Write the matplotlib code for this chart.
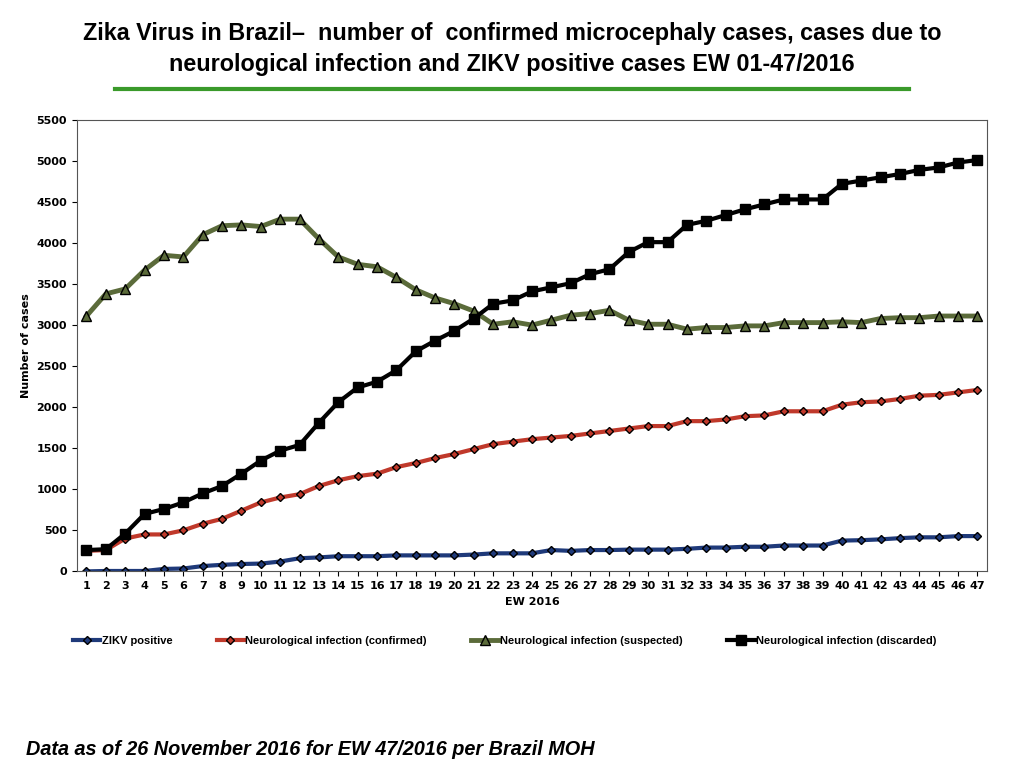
import matplotlib.pyplot as plt
import numpy as np

weeks = list(range(1, 48))
zikv = [0, 5, 5, 5, 30, 35, 65, 80, 90, 95, 120, 160, 170, 185, 185, 185, 195, 195, 195, 195,
        205, 220, 220, 220, 260, 250, 260, 260, 265, 265, 265, 275, 290, 290, 300, 300, 315,
        315, 315, 375, 380, 390, 405, 415, 415, 430, 430]
confirmed = [250, 260, 400, 450, 450, 500, 580, 640, 740, 840, 900, 940, 1040, 1110, 1160, 1190,
             1270, 1320, 1380, 1430, 1490, 1550, 1580, 1610, 1630, 1650, 1680, 1710, 1740, 1770,
             1770, 1830, 1830, 1850, 1890, 1900, 1950, 1950, 1950, 2030, 2060, 2070, 2100, 2140,
             2150, 2180, 2210]
suspected = [3110, 3380, 3440, 3670, 3850, 3830, 4100, 4210, 4220, 4200, 4290, 4290, 4050, 3830,
             3740, 3710, 3580, 3430, 3330, 3260, 3170, 3010, 3040, 3000, 3060, 3120, 3140, 3180,
             3060, 3010, 3010, 2950, 2970, 2970, 2990, 2990, 3030, 3030, 3030, 3040, 3030, 3080,
             3090, 3090, 3110, 3110, 3110]
discarded = [260, 270, 460, 700, 760, 840, 950, 1040, 1190, 1350, 1470, 1540, 1810, 2060, 2240,
             2310, 2450, 2680, 2810, 2930, 3080, 3260, 3300, 3410, 3460, 3510, 3620, 3680, 3890,
             4010, 4010, 4220, 4270, 4340, 4410, 4470, 4530, 4530, 4530, 4720, 4760, 4800, 4840,
             4890, 4920, 4980, 5010]

fig = plt.figure(figsize=(10.24, 7.68), dpi=100)
ax = fig.add_axes([0.075, 0.256, 0.889, 0.588])

ax.plot(weeks, zikv, color='#1f3a7a', lw=3, marker='D', ms=4, mfc='#1f3a7a', mec='black',
        label='ZIKV positive')
ax.plot(weeks, confirmed, color='#c0392b', lw=3, marker='D', ms=4, mfc='#c0392b', mec='black',
        label='Neurological infection (confirmed)')
ax.plot(weeks, suspected, color='#5b6b3a', lw=3.5, marker='^', ms=7, mfc='#5b6b3a', mec='black',
        label='Neurological infection (suspected)')
ax.plot(weeks, discarded, color='black', lw=3, marker='s', ms=7, mfc='black', mec='black',
        label='Neurological infection (discarded)')

ax.set_xlim(0.5, 47.5)
ax.set_ylim(0, 5500)
ax.set_yticks(np.arange(0, 5501, 500))
ax.set_xticks(weeks)
ax.tick_params(labelsize=8)
for lbl in ax.get_xticklabels() + ax.get_yticklabels():
    lbl.set_fontweight('bold')
ax.set_xlabel('EW 2016', fontsize=8, fontweight='bold')
ax.set_ylabel('Number of cases', fontsize=8, fontweight='bold')
for s in ax.spines.values():
    s.set_color('#555555')

ax.legend(loc='upper center', bbox_to_anchor=(0.47, -0.12), ncol=4, frameon=False,
          prop={'size': 8, 'weight': 'bold', 'family': 'Liberation Sans'},
          handlelength=2.5, handletextpad=0.1, columnspacing=4)

fig.text(0.5, 0.972, 'Zika Virus in Brazil\u2013  number of  confirmed microcephaly cases, cases due to\n'
         'neurological infection and ZIKV positive cases EW 01-47/2016',
         ha='center', va='top', fontsize=16.8, fontweight='bold', linespacing=1.45,
         family='Liberation Sans')
fig.add_artist(plt.Line2D([0.112, 0.888], [0.884, 0.884], color='#3a9a2a', lw=3))
fig.text(0.025, 0.017, 'Data as of 26 November 2016 for EW 47/2016 per Brazil MOH',
         fontsize=14.3, fontweight='bold', style='italic', family='Liberation Sans')

fig.savefig('out.png', dpi=100)
